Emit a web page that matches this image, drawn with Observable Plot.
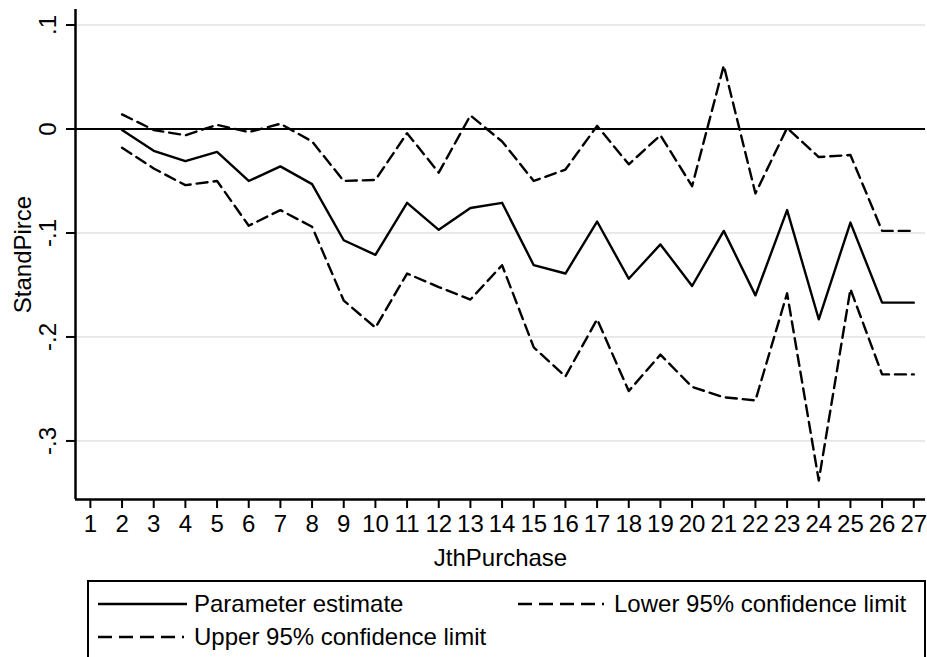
<!DOCTYPE html>
<html>
<head>
<meta charset="utf-8">
<script src="https://cdn.jsdelivr.net/npm/d3@7"></script>
<script src="https://cdn.jsdelivr.net/npm/@observablehq/plot@0.6"></script>
<style>
  html, body { margin: 0; padding: 0; background: #fff; }
  #wrap { position: relative; width: 927px; height: 657px; overflow: hidden; font-family: "Liberation Sans", Arial, sans-serif; }
  #chart { position: absolute; left: 0; top: 0; }
  #legend { position: absolute; left: 0; top: 580px; }
</style>
</head>
<body>
<div id="wrap">
  <div id="chart"></div>
  <div id="legend"></div>
</div>
<script>
const purchase = [2,3,4,5,6,7,8,9,10,11,12,13,14,15,16,17,18,19,20,21,22,23,24,25,26,27];
const estimate = [-0.001,-0.021,-0.031,-0.022,-0.050,-0.036,-0.053,-0.107,-0.121,-0.071,-0.097,-0.076,-0.071,-0.131,-0.139,-0.089,-0.144,-0.111,-0.151,-0.098,-0.160,-0.078,-0.183,-0.090,-0.167,-0.167];
const upper = [0.014,-0.001,-0.006,0.004,-0.003,0.005,-0.012,-0.050,-0.049,-0.004,-0.042,0.013,-0.012,-0.050,-0.039,0.003,-0.034,-0.006,-0.055,0.061,-0.062,0.001,-0.027,-0.025,-0.098,-0.098];
const lower = [-0.018,-0.038,-0.054,-0.050,-0.093,-0.078,-0.094,-0.165,-0.191,-0.139,-0.152,-0.164,-0.131,-0.210,-0.238,-0.183,-0.252,-0.217,-0.248,-0.258,-0.261,-0.158,-0.338,-0.154,-0.236,-0.236];
const xTicks = d3.range(1, 28);
const yTicks = [0.1, 0, -0.1, -0.2, -0.3];
const yTickLabels = [".1", "0", "-.1", "-.2", "-.3"];
const gridTicks = [0.1, -0.1, -0.2, -0.3];
const xDomain = [0.53, 27.37];
const yDomain = [-0.3563, 0.1149];
const seriesNames = ["Parameter estimate", "Lower 95% confidence limit", "Upper 95% confidence limit"];

const rows = purchase.map((p, i) => ({p, est: estimate[i], lo: lower[i], hi: upper[i]}));
const labelOf = new Map(yTicks.map((t, i) => [t, yTickLabels[i]]));

const font = '"Liberation Sans", Arial, Helvetica, sans-serif';
const plot = Plot.plot({
  width: 927,
  height: 580,
  marginLeft: 75,
  marginRight: 2,
  marginTop: 9,
  marginBottom: 81,
  style: {fontSize: "24px", fontFamily: font, background: "#fff", color: "#000", overflow: "visible"},
  x: {domain: xDomain},
  y: {domain: yDomain},
  marks: [
    Plot.gridY(gridTicks, {stroke: "#d4d4d4", strokeOpacity: 1, strokeWidth: 1}),
    Plot.ruleY([0], {stroke: "#000", strokeWidth: 2}),
    Plot.ruleX([xDomain[0]], {stroke: "#000", strokeWidth: 2.5}),
    Plot.ruleY([yDomain[0]], {stroke: "#000", strokeWidth: 2.5}),
    Plot.axisX(xTicks, {tickSize: 9, tickPadding: 6, strokeWidth: 2, tickFormat: d => String(d), label: "JthPurchase", labelAnchor: "center", labelArrow: "none", labelOffset: 66}),
    Plot.axisY(yTicks, {tickSize: 9, tickPadding: 18, strokeWidth: 2, tickRotate: -90, textAnchor: "middle", lineAnchor: "middle", tickFormat: d => labelOf.get(d), label: "StandPirce", labelAnchor: "center", labelArrow: "none", labelOffset: 62}),
    Plot.line(rows, {x: "p", y: "est", stroke: "#000", strokeWidth: 2.4}),
    Plot.line(rows, {x: "p", y: "lo", stroke: "#000", strokeWidth: 2.4, strokeDasharray: "11,6"}),
    Plot.line(rows, {x: "p", y: "hi", stroke: "#000", strokeWidth: 2.4, strokeDasharray: "11,6"})
  ]
});
document.getElementById("chart").appendChild(plot);

// Legend
const lg = d3.select("#legend").append("svg").attr("width", 927).attr("height", 77)
  .style("font-family", font).style("font-size", "24px");
lg.append("rect").attr("x", 88).attr("y", 1).attr("width", 837).attr("height", 110)
  .attr("fill", "none").attr("stroke", "#000").attr("stroke-width", 2);
const items = [
  {name: seriesNames[0], x: 98, y: 24, dash: null},
  {name: seriesNames[1], x: 518, y: 24, dash: "14,7,14,7,14,7,14,7,2,100"},
  {name: seriesNames[2], x: 98, y: 57, dash: "14,7,14,7,14,7,14,7,2,100"}
];
items.forEach(it => {
  const ln = lg.append("line").attr("x1", it.x).attr("x2", it.x + 89).attr("y1", it.y).attr("y2", it.y)
    .attr("stroke", "#000").attr("stroke-width", 2.4);
  if (it.dash) ln.attr("stroke-dasharray", it.dash);
  lg.append("text").attr("x", it.x + 96).attr("y", it.y).attr("dy", "0.35em").text(it.name);
});
</script>
</body>
</html>
